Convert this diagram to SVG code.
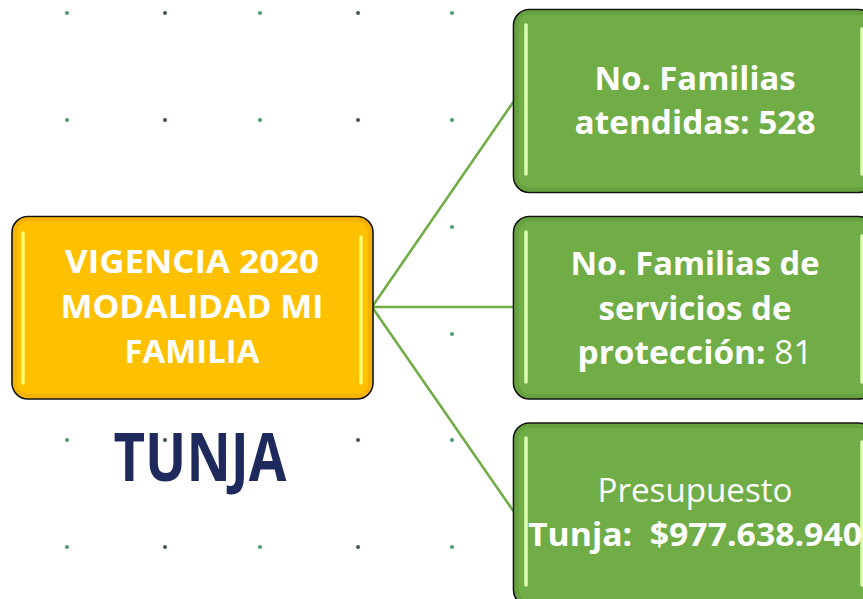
<svg xmlns="http://www.w3.org/2000/svg" width="863" height="599" viewBox="0 0 863 599">
<style>
.dg{fill:#4f9a6c}
.dd{fill:#3d5656}
.box{stroke:#111;stroke-width:1.6}
.orange{fill:#FFC000}
.green{fill:#70AD47}
.glowO{fill:none;stroke:#F0A800;stroke-width:4;opacity:0.6}
.glowG{fill:none;stroke:#5E9A38;stroke-width:4;opacity:0.6}
.hlO{stroke:#FFFF70;stroke-width:3.5;stroke-linecap:round}
.hlG{stroke:#DDFFB0;stroke-width:3.5;stroke-linecap:round}
.t{font-family:"Open Sans","Liberation Sans",sans-serif;fill:#fff;text-anchor:middle;font-size:32px}
.b{font-weight:bold}
.conn{stroke:#70AD47;stroke-width:2.6;fill:none}
</style>
<rect width="863" height="599" fill="#fff"/>
<g id="dots">
<circle class="dg" cx="67" cy="13" r="2"/><circle class="dd" cx="165" cy="13" r="2"/><circle class="dg" cx="260" cy="13" r="2"/><circle class="dd" cx="358" cy="13" r="2"/><circle class="dg" cx="452" cy="13" r="2"/>
<circle class="dg" cx="67" cy="120" r="2"/><circle class="dd" cx="165" cy="120" r="2"/><circle class="dg" cx="260" cy="120" r="2"/><circle class="dd" cx="358" cy="120" r="2"/><circle class="dg" cx="452" cy="120" r="2"/>
<circle class="dg" cx="452" cy="227" r="2"/>
<circle class="dg" cx="452" cy="334" r="2"/>
<circle class="dg" cx="67" cy="440" r="2"/><circle class="dd" cx="165" cy="440" r="2"/><circle class="dd" cx="358" cy="440" r="2"/><circle class="dg" cx="452" cy="440" r="2"/>
<circle class="dg" cx="67" cy="547" r="2"/><circle class="dd" cx="165" cy="547" r="2"/><circle class="dg" cx="260" cy="547" r="2"/><circle class="dd" cx="358" cy="547" r="2"/><circle class="dg" cx="452" cy="547" r="2"/>
</g>
<g id="connectors">
<line class="conn" x1="372" y1="307" x2="514" y2="101"/>
<line class="conn" x1="372" y1="307" x2="514" y2="307"/>
<line class="conn" x1="372" y1="307" x2="514" y2="512"/>
</g>
<g id="root">
<rect class="box orange" x="12" y="216.5" width="361" height="182.5" rx="16"/>
<rect class="glowO" x="15" y="219.5" width="355" height="176.5" rx="13"/>
<line class="hlO" x1="23" y1="233" x2="23" y2="383"/>
<line class="hlO" x1="361" y1="237" x2="361" y2="383"/>
<text class="t b" x="192" y="273" textLength="254" lengthAdjust="spacingAndGlyphs">VIGENCIA 2020</text>
<text class="t b" x="192" y="318" textLength="263" lengthAdjust="spacingAndGlyphs">MODALIDAD MI</text>
<text class="t b" x="192" y="363" textLength="135" lengthAdjust="spacingAndGlyphs">FAMILIA</text>
</g>
<g id="tunja">
<text x="200" y="481" font-family="'Open Sans','Liberation Sans',sans-serif" font-weight="bold" font-size="66" fill="#1F2A5C" text-anchor="middle" textLength="173" lengthAdjust="spacingAndGlyphs">TUNJA</text>
</g>
<g id="n1">
<rect class="box green" x="513.5" y="9.5" width="361" height="183" rx="16"/>
<rect class="glowG" x="516.5" y="12.5" width="355" height="177" rx="13"/>
<line class="hlG" x1="526" y1="25" x2="526" y2="174"/>
<line class="hlG" x1="862" y1="29" x2="862" y2="174"/>
<text class="t b" x="695" y="90" textLength="201" lengthAdjust="spacingAndGlyphs">No. Familias</text>
<text class="t b" x="695" y="134" textLength="241" lengthAdjust="spacingAndGlyphs">atendidas: 528</text>
</g>
<g id="n2">
<rect class="box green" x="513.5" y="216.5" width="361" height="182.5" rx="16"/>
<rect class="glowG" x="516.5" y="219.5" width="355" height="176.5" rx="13"/>
<line class="hlG" x1="526" y1="232" x2="526" y2="382"/>
<line class="hlG" x1="862" y1="236" x2="862" y2="382"/>
<text class="t b" x="695" y="275" textLength="249" lengthAdjust="spacingAndGlyphs">No. Familias de</text>
<text class="t b" x="695" y="320" textLength="193" lengthAdjust="spacingAndGlyphs">servicios de</text>
<text class="t" x="695" y="364" textLength="235" lengthAdjust="spacingAndGlyphs"><tspan class="b">protección:</tspan> 81</text>
</g>
<g id="n3">
<rect class="box green" x="513.5" y="423" width="361" height="183" rx="16"/>
<rect class="glowG" x="516.5" y="426" width="355" height="177" rx="13"/>
<line class="hlG" x1="526" y1="438" x2="526" y2="585"/>
<line class="hlG" x1="862" y1="442" x2="862" y2="585"/>
<text class="t" x="695" y="502" textLength="195" lengthAdjust="spacingAndGlyphs">Presupuesto</text>
<text class="t b" x="695" y="546" textLength="334" lengthAdjust="spacingAndGlyphs" xml:space="preserve">Tunja:  $977.638.940</text>
</g>
</svg>
